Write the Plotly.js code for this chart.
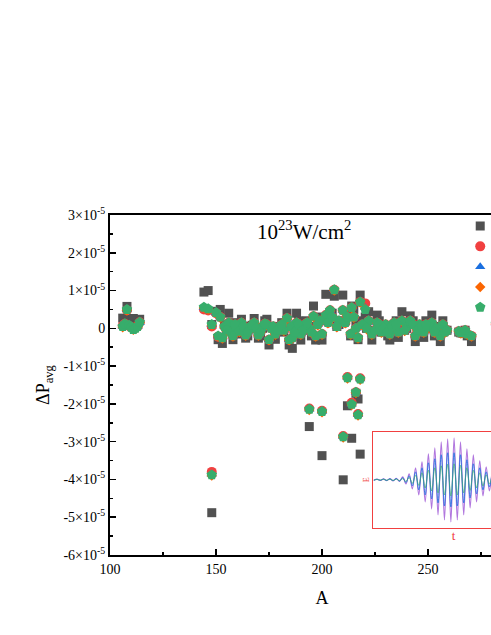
<!DOCTYPE html>
<html>
<head>
<meta charset="utf-8">
<script src="https://cdn.plot.ly/plotly-3.0.1.min.js"></script>
<style>
  html, body { margin: 0; padding: 0; overflow: hidden; background: #fff; }
  #chart { width: 534px; height: 635px; }
</style>
</head>
<body>
<div id="chart"></div>
<script>
// mass number A of each point
const massA = [
  106, 107, 108, 109, 110, 111, 112, 113, 114,
  144.3, 146.3, 148, 148,
  150, 151, 152, 153, 154, 156, 157, 158, 160, 162, 164, 166, 168, 170, 172, 174, 175, 176, 178, 180, 182,
  183.5, 184.5, 186, 188, 190, 192, 194, 194, 196, 197, 198, 200, 200,
  201.8, 203.8, 205.8, 208, 209.8, 210, 211, 212, 212, 213.5, 214, 214, 216, 216, 217, 217, 218, 218,
  220.4, 222, 223.5, 226, 228, 230, 232, 234, 236, 237.7, 240, 241.6, 244, 246, 248, 250, 251.8, 254, 255.8, 258,
  264.5, 266.5, 268.5, 270.5, 282,
  155, 159, 161, 163, 165, 167, 169, 171, 173, 177, 179, 181, 185.5, 187, 189, 191, 193, 195, 199, 202.8,
  204.8, 207, 215, 219, 221, 225, 227, 229, 231, 233, 235, 239, 243, 245, 247, 249, 253, 257, 259, 265.5, 267.5
];
// ΔP_avg in units of 1e-5, one array per marker series
const squareY = [
  0.27, 0.15, 0.58, 0.12, 0.24, 0.26, 0.05, 0.1, 0.24,
  0.96, 1.0, 0.1, -4.88,
  0.45, -0.3, 0.5, -0.4, 0.1, 0.4, -0.05, -0.3, 0.1, 0.24, -0.26, 0.05, 0.26, -0.26, 0.0, 0.24, -0.44, 0.05, -0.29, 0.0, -0.1,
  0.4, -0.44, -0.53, 0.4, -0.31, 0.15, 0.05, -2.6, 0.59, -0.31, 0.2, -0.31, -3.37,
  0.9, 0.3, 0.85, 0.1, 0.88, -4.01, 0.2, 0.4, -2.05, -0.2, 0.59, -2.91, 0.1, -1.72, -0.3, -1.87, 0.88, -3.33,
  0.3, 0.44, -0.31, 0.35, -0.1, 0.05, -0.31, 0.1, -0.24, 0.44, 0.0, 0.33, -0.35, 0.1, -0.24, 0.0, 0.35, 0.05, -0.35, -0.05,
  -0.1, -0.12, -0.2, -0.35, 0.12,
  -0.05, 0.15, -0.15, 0.05, -0.2, 0.08, 0.0, -0.2, 0.2, 0.05, -0.05, 0.15, 0.05, -0.2, 0.2, -0.05, 0.2, -0.2, 0.3, 0.2,
  0.4, 0.05, 0.5, 0.2, 0.0, -0.05, 0.2, 0.0, -0.2, 0.05, 0.2, -0.05, 0.2, -0.05, 0.05, 0.2, -0.2, 0.2, -0.05, -0.12, -0.05
];
const circleY = [
  0.07, 0.12, 0.48, 0.06, 0.03, 0.0, 0.02, 0.05, 0.16,
  0.5, 0.47, 0.05, -3.8,
  0.4, -0.22, 0.3, -0.25, 0.05, 0.15, -0.1, -0.2, 0.05, 0.15, -0.18, 0.0, 0.15, -0.18, 0.05, 0.1, -0.3, 0.0, -0.15, 0.02, -0.05,
  0.27, -0.3, -0.25, 0.15, -0.15, 0.1, 0.0, -2.12, 0.32, -0.2, 0.1, -0.15, -2.18,
  0.35, 0.48, 1.02, 0.2, 0.48, -2.85, 0.15, 0.3, -1.29, -0.15, 0.55, -1.97, 0.0, -1.69, -0.25, -2.27, 0.7, -1.32,
  0.66, 0.2, -0.15, 0.15, -0.1, 0.1, -0.15, 0.15, -0.1, 0.2, 0.05, 0.2, -0.2, 0.1, -0.1, 0.05, 0.15, 0.0, -0.2, -0.1,
  -0.08, -0.1, -0.15, -0.2, 0.12,
  -0.05, 0.1, -0.08, 0.05, -0.1, 0.08, 0.0, -0.1, 0.12, 0.05, -0.05, 0.1, 0.05, -0.1, 0.1, -0.05, 0.15, -0.1, 0.2, 0.15,
  0.3, 0.05, 0.3, 0.1, 0.0, -0.05, 0.1, 0.0, -0.1, 0.05, 0.1, -0.05, 0.1, -0.05, 0.05, 0.1, -0.1, 0.1, -0.05, -0.12, -0.05
];
const triangleY = [
  0.05, 0.1, 0.5, 0.08, 0.03, -0.02, 0.0, 0.05, 0.15,
  0.55, 0.5, 0.1, -3.86,
  0.42, -0.2, 0.3, -0.25, 0.05, 0.15, -0.1, -0.2, 0.05, 0.15, -0.18, 0.0, 0.15, -0.18, 0.05, 0.1, -0.3, 0.0, -0.15, 0.02, -0.05,
  0.27, -0.3, -0.25, 0.15, -0.15, 0.1, 0.0, -2.14, 0.32, -0.2, 0.1, -0.15, -2.2,
  0.35, 0.48, 1.02, 0.2, 0.48, -2.87, 0.15, 0.3, -1.31, -0.15, 0.55, -2.01, 0.0, -1.69, -0.25, -2.29, 0.7, -1.34,
  0.55, 0.2, -0.15, 0.15, -0.1, 0.1, -0.15, 0.15, -0.1, 0.2, 0.05, 0.2, -0.2, 0.1, -0.1, 0.05, 0.15, 0.0, -0.2, -0.1,
  -0.08, -0.1, -0.15, -0.2, 0.12,
  -0.05, 0.1, -0.08, 0.05, -0.1, 0.08, 0.0, -0.1, 0.12, 0.05, -0.05, 0.1, 0.05, -0.1, 0.1, -0.05, 0.15, -0.1, 0.2, 0.15,
  0.3, 0.05, 0.3, 0.1, 0.0, -0.05, 0.1, 0.0, -0.1, 0.05, 0.1, -0.05, 0.1, -0.05, 0.05, 0.1, -0.1, 0.1, -0.05, -0.12, -0.05
];
const diamondY = [
  0.03, 0.1, 0.47, 0.06, 0.01, -0.04, -0.02, 0.03, 0.15,
  0.54, 0.5, 0.08, -3.9,
  0.4, -0.22, 0.28, -0.27, 0.03, 0.13, -0.12, -0.22, 0.03, 0.13, -0.2, -0.02, 0.13, -0.2, 0.03, 0.08, -0.32, -0.02, -0.17, 0.0, -0.07,
  0.25, -0.32, -0.27, 0.13, -0.17, 0.08, -0.02, -2.16, 0.3, -0.22, 0.08, -0.17, -2.22,
  0.33, 0.46, 1.0, 0.18, 0.46, -2.89, 0.13, 0.28, -1.33, -0.17, 0.53, -2.03, -0.02, -1.71, -0.27, -2.31, 0.68, -1.36,
  0.52, 0.18, -0.17, 0.13, -0.12, 0.08, -0.17, 0.13, -0.12, 0.18, 0.03, 0.18, -0.22, 0.08, -0.12, 0.03, 0.13, -0.02, -0.22, -0.12,
  -0.1, -0.12, -0.17, -0.22, 0.1,
  -0.07, 0.08, -0.1, 0.03, -0.12, 0.06, -0.02, -0.12, 0.1, 0.03, -0.07, 0.08, 0.03, -0.12, 0.08, -0.07, 0.13, -0.12, 0.18, 0.13,
  0.28, 0.03, 0.28, 0.08, -0.02, -0.07, 0.08, -0.02, -0.12, 0.03, 0.08, -0.07, 0.08, -0.07, 0.03, 0.08, -0.12, 0.08, -0.07, -0.14, -0.07
];
const pentagonY = [
  0.05, 0.12, 0.5, 0.08, 0.03, -0.03, 0.0, 0.05, 0.16,
  0.56, 0.52, 0.1, -3.88,
  0.42, -0.2, 0.3, -0.25, 0.05, 0.15, -0.1, -0.2, 0.05, 0.15, -0.18, 0.0, 0.15, -0.18, 0.05, 0.1, -0.3, 0.0, -0.15, 0.02, -0.05,
  0.27, -0.3, -0.25, 0.15, -0.15, 0.1, 0.0, -2.14, 0.32, -0.2, 0.1, -0.15, -2.2,
  0.35, 0.48, 1.02, 0.2, 0.48, -2.87, 0.15, 0.3, -1.31, -0.15, 0.55, -2.01, 0.0, -1.69, -0.25, -2.29, 0.7, -1.34,
  0.5, 0.2, -0.15, 0.15, -0.1, 0.1, -0.15, 0.15, -0.1, 0.2, 0.05, 0.2, -0.2, 0.1, -0.1, 0.05, 0.15, 0.0, -0.2, -0.1,
  -0.08, -0.1, -0.15, -0.2, 0.12,
  -0.05, 0.1, -0.08, 0.05, -0.1, 0.08, 0.0, -0.1, 0.12, 0.05, -0.05, 0.1, 0.05, -0.1, 0.1, -0.05, 0.15, -0.1, 0.2, 0.15,
  0.3, 0.05, 0.3, 0.1, 0.0, -0.05, 0.1, 0.0, -0.1, 0.05, 0.1, -0.05, 0.1, -0.05, 0.05, 0.1, -0.1, 0.1, -0.05, -0.12, -0.05
];
const seriesNames = [' ', ' ', ' ', ' ', ' '];

// inset: turning points of the pulse field E(t), in arbitrary units
const insetPurple = [
  -0.5, 0.8, -0.6, 1.0, -0.8, 1.2, -1.0, 1.5, -1.5, 3,
  -4, 6, -9, 12, -15, 18, -22, 26, -29, 32,
  -35, 38, -40, 41, -42, 42, -40, 38, -35, 31,
  -28, 25, -22, 19, -16, 13, -11, 9, -7, 6,
  -5, 4, -3, 2.5, -2, 1.5, -1.2, 1, -0.8, 0.5
];
const insetBlue = [
  -0.4, 0.6, -0.5, 0.8, -0.6, 1.0, -0.8, 1.2, -1.2, 2.2,
  -2.8, 4, -6, 8, -10, 12, -15, 17, -19, 21,
  -23, 25, -26, 27, -27, 27, -26, 25, -23, 20,
  -18, 16, -14, 12, -10, 8, -7, 6, -5, 4,
  -3, 2.5, -2, 1.6, -1.3, 1, -0.8, 0.6, -0.5, 0.3
];
const insetGreen = [
  -0.3, 0.4, -0.3, 0.5, -0.4, 0.6, -0.5, 0.7, -0.7, 1.2,
  -1.6, 2.4, -3.5, 4.5, -5.5, 7, -8, 9.5, -11, 12,
  -13, 14, -15, 15.5, -16, 16, -15, 14.5, -13, 12,
  -10.5, 9.5, -8, 7, -6, 5, -4, 3.5, -3, 2.3,
  -1.9, 1.5, -1.2, 1, -0.8, 0.6, -0.5, 0.4, -0.3, 0.2
];

const yTickVals = [3, 2, 1, 0, -1, -2, -3, -4, -5, -6];
const yTickText = ['3×10<sup>-5</sup>', '2×10<sup>-5</sup>', '1×10<sup>-5</sup>', '0',
  '-1×10<sup>-5</sup>', '-2×10<sup>-5</sup>', '-3×10<sup>-5</sup>', '-4×10<sup>-5</sup>',
  '-5×10<sup>-5</sup>', '-6×10<sup>-5</sup>'];

const serif = 'Liberation Serif, Times New Roman, serif';

function markerTrace(y, name, symbol, color, size) {
    return {
        x: massA, y: y, name: name, type: 'scatter', mode: 'markers',
        marker: {symbol: symbol, color: color, size: size, line: {width: 0}}
    };
}

function insetTrace(y, color, width) {
    return {
        y: y, xaxis: 'x2', yaxis: 'y2', type: 'scatter', mode: 'lines',
        line: {color: color, width: width, shape: 'spline'}, showlegend: false, hoverinfo: 'skip'
    };
}

let traces = [
    markerTrace(squareY, seriesNames[0], 'square', '#515151', 9),
    markerTrace(circleY, seriesNames[1], 'circle', '#F14040', 10),
    markerTrace(triangleY, seriesNames[2], 'triangle-up', '#1A6FDF', 9),
    markerTrace(diamondY, seriesNames[3], 'diamond', '#FB6501', 8),
    markerTrace(pentagonY, seriesNames[4], 'pentagon', '#37AD6B', 11),
    insetTrace(insetPurple, '#B177DE', 1.2),
    insetTrace(insetBlue, '#1A6FDF', 0.8),
    insetTrace(insetGreen, '#37AD6B', 0.7)
];

let layout = {
    width: 534, height: 635,
    margin: {l: 110, r: 0, t: 215, b: 80},
    paper_bgcolor: '#fff', plot_bgcolor: '#fff',
    font: {family: serif, size: 14, color: '#000'},
    showlegend: true,
    legend: {x: 0.826, y: 1.012, xanchor: 'left', yanchor: 'top', bgcolor: 'rgba(0,0,0,0)',
             font: {family: serif, size: 13.3}, tracegroupgap: 0},
    xaxis: {
        range: [100, 300], tick0: 100, dtick: 50,
        ticks: 'inside', ticklen: 6, tickwidth: 1.5, tickcolor: '#000',
        minor: {dtick: 25, ticks: 'inside', ticklen: 3, tickwidth: 1.5, tickcolor: '#000'},
        showline: true, linewidth: 2, linecolor: '#000', mirror: true,
        showgrid: false, zeroline: false,
        tickfont: {family: serif, size: 14},
        title: {text: 'A', font: {family: serif, size: 18}, standoff: 16}
    },
    yaxis: {
        range: [-6, 3], tickmode: 'array', tickvals: yTickVals, ticktext: yTickText,
        ticks: 'inside', ticklen: 6, tickwidth: 1.5, tickcolor: '#000',
        minor: {tick0: 0, dtick: 0.5, ticks: 'inside', ticklen: 3, tickwidth: 1.5, tickcolor: '#000'},
        showline: true, linewidth: 2, linecolor: '#000', mirror: true,
        showgrid: false, zeroline: false,
        tickfont: {family: serif, size: 14},
        title: {text: 'ΔP<sub>avg</sub>', font: {family: serif, size: 18}, standoff: 9}
    },
    xaxis2: {
        domain: [0.62, 1.0], anchor: 'y2', range: [-0.3, 49.9],
        showline: true, mirror: true, linecolor: '#F14040', linewidth: 1,
        showticklabels: false, ticks: '', showgrid: false, zeroline: false,
        title: {text: 't', font: {family: serif, size: 13, color: '#F14040'}, standoff: 2}
    },
    yaxis2: {
        domain: [0.0794, 0.3626], anchor: 'x2', range: [-48, 48],
        showline: true, mirror: true, linecolor: '#F14040', linewidth: 1,
        showticklabels: false, ticks: '', showgrid: false, zeroline: false,
        title: {text: 'E', font: {family: serif, size: 8, color: '#F14040'}, standoff: 1}
    },
    annotations: [{
        text: '10<sup>23</sup>W/cm<sup>2</sup>', xref: 'paper', yref: 'paper',
        x: 0.458, y: 1.0, showarrow: false, font: {family: serif, size: 21}
    }]
};

Plotly.newPlot('chart', traces, layout, {displayModeBar: false, staticPlot: true});
</script>
</body>
</html>
